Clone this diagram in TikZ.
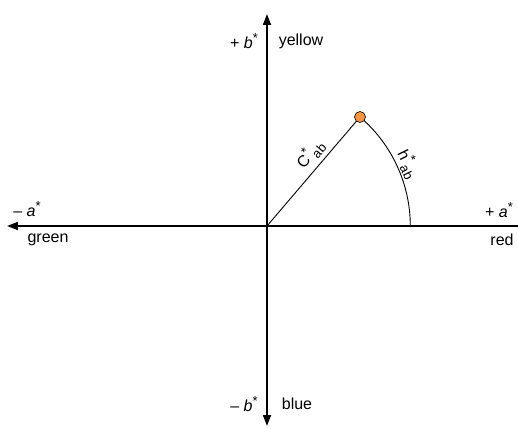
\documentclass[tikz,border=0pt]{standalone}
\usepackage{fontspec}
\setmainfont{Liberation Sans}
\usetikzlibrary{arrows.meta}
\definecolor{dotorange}{RGB}{247,150,60}
\newcommand{\stsup}{\raisebox{0.7ex}{\fontsize{13}{15}\selectfont *}}
\newcommand{\absub}{\raisebox{-0.5ex}{\fontsize{13}{15}\selectfont ab}}
\tikzset{
  axis/.style={line width=1.8pt},
  tip/.style={-{Triangle[width=8pt,length=11pt]}},
  lbl/.style={font=\fontsize{16}{19}\selectfont, inner sep=0pt},
  thin line/.style={line width=0.9pt}
}
\begin{document}
\begin{tikzpicture}[x=1pt,y=1pt]
\useasboundingbox (-267,-202) rectangle (251,226);
\coordinate (O) at (0,0);
\coordinate (top) at (0,212);
\coordinate (bot) at (0,-200);
\coordinate (left) at (-260,0);
\coordinate (right) at (251,0);
\coordinate (A) at (143.3,0);
\draw[axis,tip] (O) -- (top);
\draw[axis,tip] (O) -- (bot);
\draw[axis,tip] (right) -- (left);
\draw[thin line] (O) -- (93,109) coordinate (P);
\draw[thin line] (A) arc[start angle=0,end angle=49.5,radius=143.3];
\node[circle,draw=black,line width=0.6pt,fill=dotorange,minimum size=11pt,inner sep=0pt] (dot) at (P) {};
\node[lbl] (pb) at (-23,185) {+ \textit{b}\stsup};
\node[lbl] (yel) at (34,185) {yellow};
\node[lbl] (ma) at (-240,17) {– \textit{a}\stsup};
\node[lbl] (grn) at (-219,-14) {green};
\node[lbl] (pa) at (232,16) {+ \textit{a}\stsup};
\node[lbl] (red) at (235,-14) {red};
\node[lbl] (mb) at (-23,-178) {– \textit{b}\stsup};
\node[lbl] (blu) at (30,-178) {blue};
\node[lbl,rotate=49.5] (C) at (43,72) {C\stsup\absub};
\node[lbl,rotate=-64] (h) at (141,62) {h\stsup\absub};
\end{tikzpicture}
\end{document}
